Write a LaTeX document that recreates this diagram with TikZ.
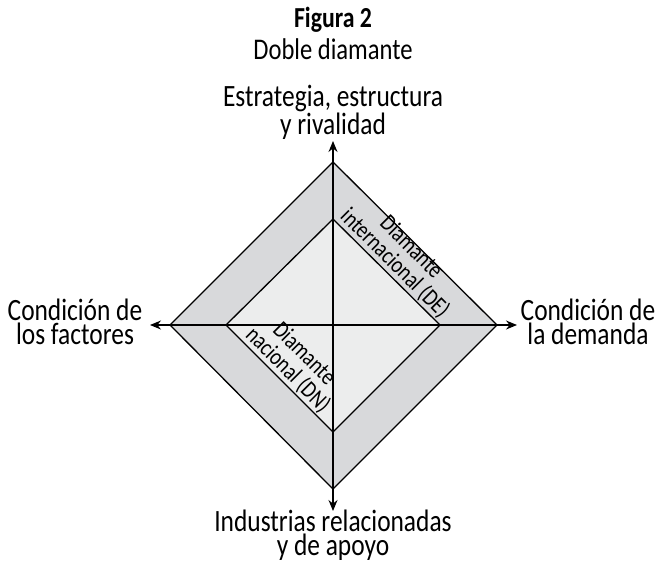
\documentclass[tikz,border=0pt]{standalone}
\usepackage{fontspec}
\setmainfont{Carlito}[FakeStretch=0.82]
\usetikzlibrary{arrows.meta}

\definecolor{outergray}{RGB}{216,217,219}
\definecolor{innergray}{RGB}{236,237,237}

\tikzset{
	axislabel/.style={align=center, inner sep=0pt, font=\fontsize{31}{24}\selectfont},
	diamlabel/.style={align=center, inner sep=1.5pt, rotate=-45, anchor=south, font=\fontsize{24}{23}\selectfont},
}

\begin{document}
\begin{tikzpicture}[x=1pt, y=-1pt, >={Stealth[length=11pt,width=9pt]}]
	\useasboundingbox (0,0) rectangle (656,563);
	% diamond corners
	\coordinate (oN) at (333,162);
	\coordinate (oE) at (497,325);
	\coordinate (oS) at (333,489);
	\coordinate (oW) at (170,325);
	\coordinate (iN) at (333,219);
	\coordinate (iE) at (440,325);
	\coordinate (iS) at (333,432);
	\coordinate (iW) at (226,325);
	\filldraw[line width=1.3pt, fill=outergray] (oN) -- (oE) -- (oS) -- (oW) -- cycle;
	\filldraw[line width=1.3pt, fill=innergray] (iN) -- (iE) -- (iS) -- (iW) -- cycle;
	% axes
	\coordinate (tN) at (333,141);
	\coordinate (tS) at (333,511);
	\coordinate (tW) at (150,325);
	\coordinate (tE) at (517,325);
	\draw[line width=1.3pt, <->] (tN) -- (tS);
	\draw[line width=1.3pt, <->] (tW) -- (tE);
	\node[diamlabel] (de) at (386.5,272) {Diamante\\internacional (DE)};
	\node[diamlabel] (dn) at (279.5,378.5) {Diamante\\nacional (DN)};
	\node[axislabel] (estr) at (333,112) {Estrategia, estructura\\y rivalidad};
	\node[axislabel] (fact) at (75,322) {Condición de\\los factores};
	\node[axislabel] (dem) at (588,322) {Condición de\\la demanda};
	\node[axislabel] (ind) at (333,535) {Industrias relacionadas\\y de apoyo};
	\node[font=\bfseries\fontsize{29}{29}\selectfont] (fig) at (333,20) {Figura 2};
	\node[font=\fontsize{30}{30}\selectfont] (tit) at (333,49) {Doble diamante};
\end{tikzpicture}
\end{document}
